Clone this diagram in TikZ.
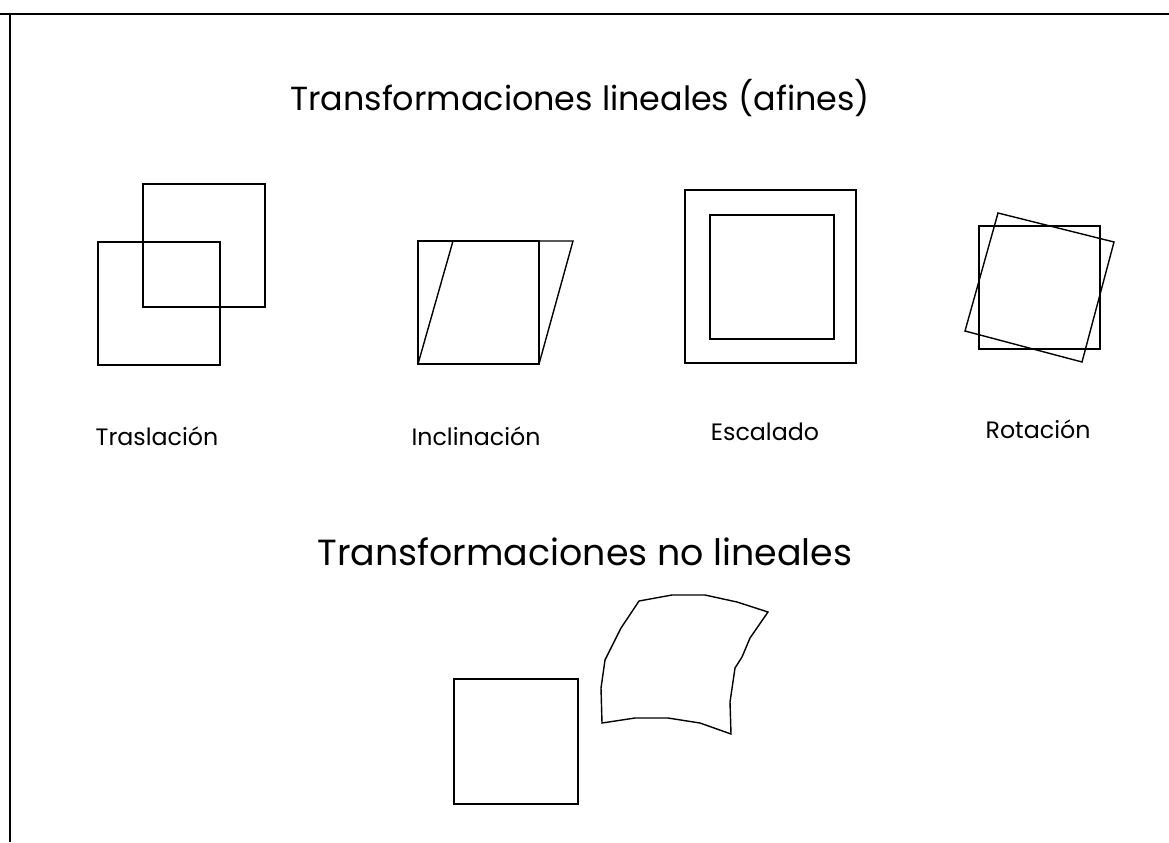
\documentclass[tikz,border=0pt]{standalone}
\usepackage{fontspec}
\setmainfont{Poppins}

\begin{document}
\begin{tikzpicture}[x=0.02cm, y=-0.02cm, line width=0.8pt,
  title/.style={anchor=base, font=\fontsize{19}{22}\selectfont},
  caption/.style={anchor=base, font=\fontsize{13.5}{16}\selectfont}]

\useasboundingbox (0,0) rectangle (1169,842);

% Frame
\draw (0,14) -- (1169,14);
\draw (10,14) -- (10,842);

% Titles
\node[title] (lintitle) at (580,110) {Transformaciones lineales (afines)};
\node[title, font=\fontsize{20.7}{24}\selectfont] (nolintitle) at (585,565) {Transformaciones no lineales};

% Traslacion
\draw (143,184) rectangle (265,307);
\draw (98,242) rectangle (220,365);

% Inclinacion
\draw (418,241) rectangle (539,364);
\draw (418,364) -- (539,364) -- (573,241) -- (453,241) -- cycle;

% Escalado
\draw (685,190) rectangle (856,363);
\draw (710,215) rectangle (834,339);

% Rotacion
\draw (979,226) rectangle (1100,349);
\draw (998,213) -- (1114,242) -- (1082,362) -- (965,331) -- cycle;

% Labels
\node[caption] (tras) at (157,445) {Traslación};
\node[caption] (incl) at (476,445) {Inclinación};
\node[caption] (esca) at (765,440) {Escalado};
\node[caption] (rota) at (1038,438) {Rotación};

% No lineal
\draw (454,679) rectangle (578,804);
\draw (639,601) -- (672,595) -- (705,595) -- (737,602) -- (768,612)
  -- (750,638) -- (742,657) -- (735,668) -- (730,702) -- (731,734)
  -- (700,723) -- (668,718) -- (635,718) -- (602,723) -- (601,688)
  -- (605,660) -- (621,628) -- cycle;

\end{tikzpicture}
\end{document}
